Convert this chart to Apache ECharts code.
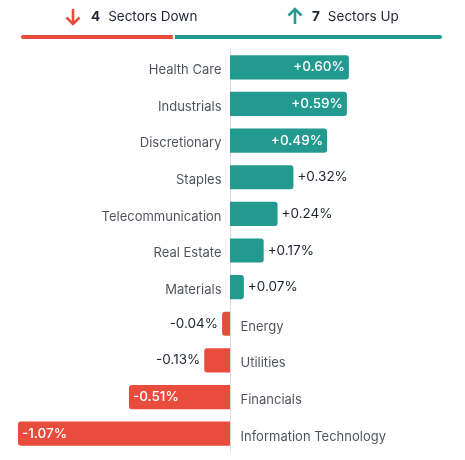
<!DOCTYPE html>
<html>
<head>
<meta charset="utf-8">
<script src="https://cdn.jsdelivr.net/npm/echarts@6/dist/echarts.min.js"></script>
<style>
  html, body { margin: 0; padding: 0; background: #fff; }
  #chart { width: 465px; height: 460px; }
</style>
</head>
<body>
<div id="chart"></div>
<script>
// sector performance
const sectors = [
  "Health Care", "Industrials", "Discretionary", "Staples", "Telecommunication",
  "Real Estate", "Materials", "Energy", "Utilities", "Financials", "Information Technology"
];
const changes = [0.60, 0.59, 0.49, 0.32, 0.24, 0.17, 0.07, -0.04, -0.13, -0.51, -1.07];

const UP = "#229a8f";
const DOWN = "#e84c3d";
const TEXT = "#1f2430";
const FONT = "Inter";

const downCount = changes.filter((v) => v < 0).length;
const upCount = changes.filter((v) => v > 0).length;

const fmt = (v) => (v > 0 ? "+" : "") + v.toFixed(2) + "%";

const chart = echarts.init(document.getElementById("chart"));

const barData = changes.map((v) => {
  const pos = v >= 0;
  const inside = Math.abs(v) >= 0.4;
  return {
    value: v,
    itemStyle: {
      color: pos ? UP : DOWN,
      borderRadius: pos ? [0, 3, 3, 0] : [3, 0, 0, 3],
    },
    label: {
      show: true,
      position: inside ? (pos ? "insideRight" : "insideLeft") : (pos ? "right" : "left"),
      distance: 4,
      color: inside ? "#fff" : TEXT,
      fontWeight: inside ? 500 : 400,
    },
  };
});

const nameData = changes.map((v, i) => ({
  value: [0, sectors[i]],
  label: {
    show: true,
    formatter: sectors[i],
    position: v >= 0 ? "left" : "right",
    distance: v >= 0 ? 8 : 10,
    offset: [0, 3],
  },
}));

// small arrow icons in the header
const arrow = (cx, up, color) => ({
  type: "group",
  silent: true,
  children: [
    {
      type: "line",
      shape: { x1: cx, y1: 9, x2: cx, y2: 24 },
      style: { stroke: color, lineWidth: 2.6 },
    },
    {
      type: "polyline",
      shape: {
        points: up
          ? [[cx - 6.5, 15.5], [cx, 9], [cx + 6.5, 15.5]]
          : [[cx - 6.5, 17.5], [cx, 24], [cx + 6.5, 17.5]],
      },
      style: { stroke: color, lineWidth: 2.6, fill: null },
    },
  ],
});

const headRich = {
  b: { color: TEXT, fontSize: 13.5, fontWeight: "bold", fontFamily: FONT, padding: [0, 8, 0, 0] },
  c: { color: TEXT, fontSize: 13.5, fontWeight: "normal", fontFamily: FONT },
};

const option = {
  backgroundColor: "#fff",
  animation: false,
  textStyle: { fontFamily: FONT },
  graphic: [arrow(73, false, DOWN), arrow(295, true, UP)],
  title: [
    {
      left: 86,
      top: 5,
      text: "{b|" + downCount + "}{c|Sectors Down}",
      textStyle: { rich: headRich },
    },
    {
      left: 307,
      top: 5,
      text: "{b|" + upCount + "}{c|Sectors Up}",
      textStyle: { rich: headRich },
    },
  ],
  grid: [
    { left: 20, right: 22, top: 34, height: 6 },
    { left: 16, right: 21, top: 49, bottom: 8 },
  ],
  xAxis: [
    { gridIndex: 0, type: "value", min: 0, max: downCount + upCount, show: false },
    { gridIndex: 1, type: "value", min: -1.08, max: 1.08, show: false },
  ],
  yAxis: [
    { gridIndex: 0, type: "category", data: ["count"], show: false },
    {
      gridIndex: 1,
      type: "category",
      data: sectors,
      inverse: true,
      axisLine: { show: true, onZero: true, lineStyle: { color: "#dddddd", width: 1 } },
      axisTick: { show: false },
      axisLabel: { show: false },
    },
  ],
  series: [
    {
      type: "bar",
      xAxisIndex: 0,
      yAxisIndex: 0,
      stack: "count",
      barWidth: 6,
      data: [downCount],
      itemStyle: { color: DOWN, borderRadius: [3, 0, 0, 3], borderColor: "#fff", borderWidth: 1 },
      silent: true,
    },
    {
      type: "bar",
      xAxisIndex: 0,
      yAxisIndex: 0,
      stack: "count",
      barWidth: 6,
      data: [upCount],
      itemStyle: { color: UP, borderRadius: [0, 3, 3, 0], borderColor: "#fff", borderWidth: 1 },
      silent: true,
    },
    {
      type: "bar",
      xAxisIndex: 1,
      yAxisIndex: 1,
      barWidth: "66%",
      data: barData,
      label: {
        fontSize: 13.5,
        fontFamily: FONT,
        formatter: (p) => fmt(p.value),
      },
    },
    {
      type: "scatter",
      xAxisIndex: 1,
      yAxisIndex: 1,
      symbolSize: 1,
      itemStyle: { color: "rgba(0,0,0,0)" },
      silent: true,
      data: nameData,
      label: { fontSize: 13, fontFamily: FONT, color: TEXT },
    },
  ],
};

chart.setOption(option);
</script>
</body>
</html>
